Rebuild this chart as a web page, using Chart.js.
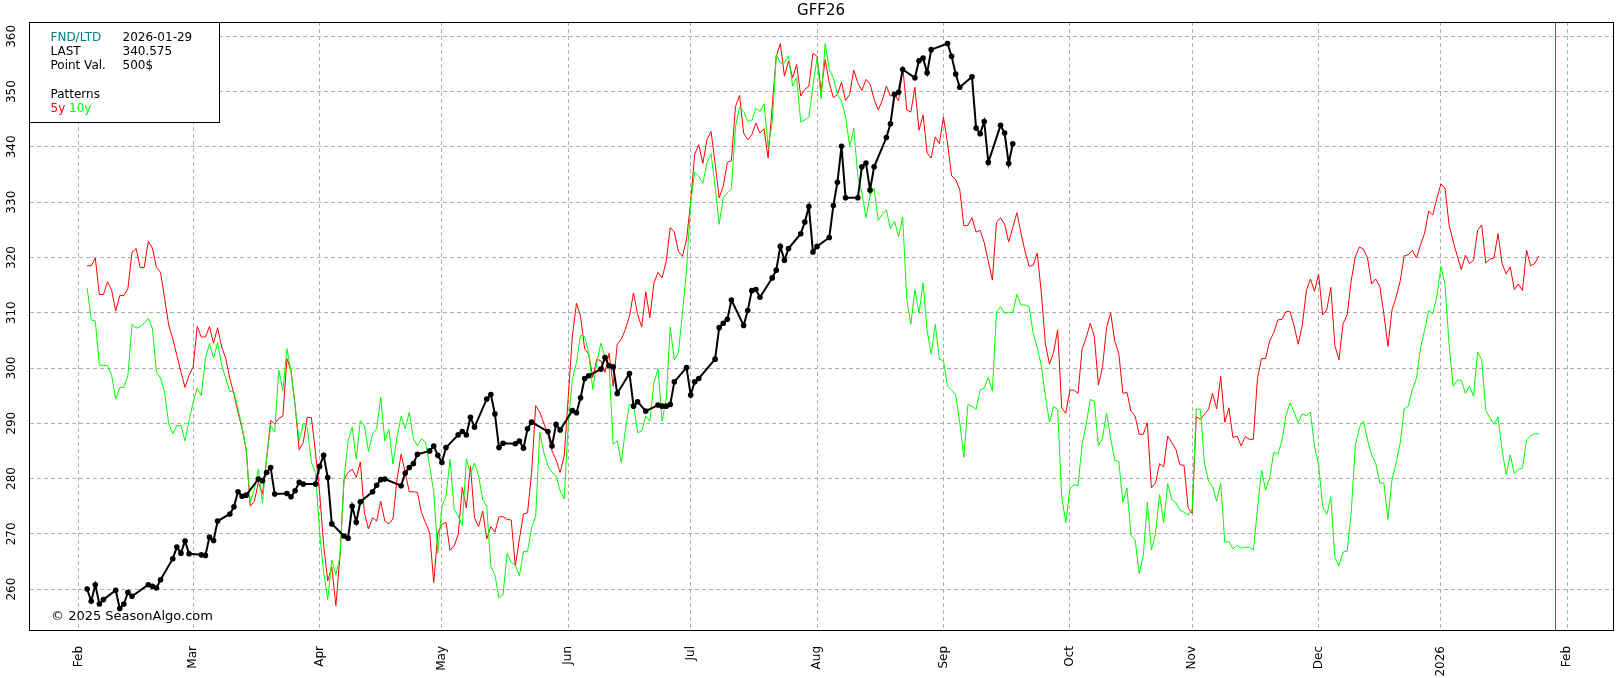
<!DOCTYPE html>
<html>
<head>
<meta charset="utf-8">
<title>GFF26</title>
<script src="https://cdn.jsdelivr.net/npm/chart.js@4/dist/chart.umd.min.js"></script>
<style>
  html, body { margin: 0; padding: 0; background: #fff; overflow: hidden; }
  #wrap { width: 1621px; height: 678px; position: relative; }
</style>
</head>
<body>
<div id="wrap"><canvas id="chart"></canvas></div>
<script>
// seasonal chart GFF26 (feeder cattle) — x values are days since 2025-02-01

const TITLE = 'GFF26';
const FND_DATE = '2026-01-29';
const LAST = '340.575';
const POINT_VAL = '500$';

const monthStartDays = [0, 28, 59, 89, 120, 150, 181, 212, 243, 273, 304, 334, 365];
const monthLabels = ['Feb', 'Mar', 'Apr', 'May', 'Jun', 'Jul', 'Aug', 'Sep', 'Oct', 'Nov', 'Dec', '2026', 'Feb'];
const yTicks = [260, 270, 280, 290, 300, 310, 320, 330, 340, 350, 360];

// patterns: one value per calendar day, starting at day 2 (Feb 3)
const patternStart = 2;
const fiveYear = [
  318.5, 318.5, 319.9, 313.3, 313.3, 315.6, 314.1, 310.3, 313.1, 313.1,
  314.4, 320.9, 321.6, 318.2, 318.2, 322.9, 321.7, 318.2, 317.3, 312.6,
  307.8, 305.3, 302.3, 299.3, 296.5, 298.7, 300.2, 307.5, 305.6, 305.6,
  307.5, 304.5, 307.3, 303.8, 301.7, 298.1, 295.3, 292.0, 289.0, 285.3,
  275.0, 275.9, 279.3, 277.2, 283.5, 290.5, 289.9, 290.9, 291.3, 301.7,
  299.6, 293.2, 285.2, 286.5, 291.1, 291.0, 284.7, 277.5, 268.0, 261.5,
  264.0, 257.0, 265.9, 279.9, 281.1, 281.7, 280.2, 283.0, 273.8, 270.9,
  272.9, 272.3, 275.9, 272.3, 271.8, 272.7, 279.9, 284.4, 281.1, 277.6,
  277.6, 277.5, 273.8, 272.0, 270.2, 261.2, 270.2, 271.7, 272.1, 267.0,
  267.8, 269.9, 278.4, 274.7, 282.3, 272.9, 271.3, 274.1, 269.1, 271.3,
  270.3, 273.1, 273.1, 272.6, 272.5, 264.2, 269.0, 273.6, 273.8, 281.1,
  293.2, 292.0, 290.0, 288.0, 285.0, 283.4, 281.1, 284.1, 294.9, 305.8,
  311.7, 309.4, 303.5, 302.5, 298.3, 301.6, 301.3, 299.2, 302.7, 296.7,
  304.3, 305.2, 307.0, 309.4, 313.6, 309.7, 307.4, 313.8, 309.1, 315.4,
  317.3, 316.3, 319.3, 325.4, 324.6, 321.1, 320.2, 323.3, 329.9, 338.7,
  340.4, 337.0, 341.3, 342.8, 337.1, 330.8, 332.9, 337.2, 337.5, 347.3,
  349.3, 342.5, 341.3, 342.2, 344.3, 342.5, 343.3, 338.0, 347.3, 356.4,
  358.7, 352.8, 355.5, 352.5, 354.9, 349.2, 350.4, 351.0, 356.9, 356.4,
  350.1, 355.8, 351.6, 348.9, 349.5, 351.7, 348.4, 349.5, 353.9, 351.6,
  350.2, 352.2, 351.4, 348.6, 346.7, 348.4, 351.0, 349.2, 349.5, 348.3,
  354.6, 346.7, 346.3, 350.8, 343.0, 345.8, 338.9, 338.0, 341.8, 340.6,
  345.4, 340.7, 334.8, 334.1, 332.3, 325.7, 325.8, 327.2, 324.6, 324.9,
  322.7, 319.3, 315.9, 326.3, 327.2, 326.0, 322.8, 325.4, 328.1, 324.5,
  321.1, 318.4, 318.6, 320.8, 313.6, 304.4, 300.7, 302.8, 306.9, 292.8,
  291.8, 296.0, 296.0, 295.4, 303.4, 305.5, 308.1, 305.7, 296.9, 300.1,
  307.3, 310.0, 304.9, 302.7, 295.4, 295.6, 292.2, 291.3, 288.0, 288.0,
  290.1, 278.3, 279.2, 282.7, 282.1, 287.7, 286.5, 285.3, 282.5, 282.4,
  274.7, 273.7, 291.2, 290.7, 291.6, 292.5, 295.4, 292.6, 298.5, 290.2,
  292.8, 287.4, 287.7, 285.9, 287.6, 287.1, 287.1, 298.1, 301.7, 301.7,
  304.9, 306.4, 308.7, 308.8, 310.2, 310.2, 307.6, 304.3, 307.8, 314.0,
  316.1, 313.9, 317.0, 309.6, 310.5, 314.6, 304.0, 301.5, 308.0, 309.6,
  315.8, 320.1, 321.9, 321.5, 319.9, 315.2, 316.1, 314.8, 309.8, 303.9,
  310.5, 312.8, 315.7, 320.3, 320.5, 321.3, 319.9, 322.3, 324.4, 328.4,
  327.7, 330.7, 333.3, 332.5, 325.9, 322.9, 320.3, 317.8, 320.4, 318.9,
  319.5, 324.9, 325.9, 319.0, 319.7, 319.9, 324.3, 318.9, 317.0, 318.3,
  314.2, 315.2, 314.0, 321.3, 318.5, 318.9, 320.3
];
const tenYear = [
  314.5, 308.7, 308.5, 300.5, 300.5, 300.4, 298.7, 294.4, 296.5, 296.5,
  298.7, 307.9, 307.2, 307.5, 308.1, 309.0, 307.2, 299.3, 298.2, 295.6,
  289.9, 288.1, 289.6, 289.6, 286.8, 290.5, 293.8, 296.4, 295.0, 301.7,
  304.4, 301.8, 304.6, 300.5, 298.1, 295.8, 295.6, 292.6, 289.3, 285.3,
  275.6, 278.1, 281.7, 275.6, 283.5, 289.6, 288.4, 299.6, 295.9, 303.5,
  299.3, 293.2, 286.8, 290.0, 289.1, 282.9, 281.1, 270.2, 263.0, 258.1,
  265.3, 262.6, 265.9, 279.9, 286.8, 289.3, 283.5, 290.5, 289.6, 284.9,
  288.1, 289.0, 294.7, 286.8, 289.0, 282.6, 287.5, 291.3, 289.0, 292.0,
  287.2, 285.9, 287.2, 286.5, 282.3, 277.5, 266.5, 275.0, 276.8, 283.5,
  274.4, 273.2, 271.5, 283.6, 280.8, 282.8, 280.5, 276.2, 275.0, 264.1,
  262.6, 258.4, 259.0, 266.5, 264.8, 264.4, 262.4, 266.8, 266.8, 271.1,
  273.2, 288.4, 284.7, 282.3, 281.1, 280.5, 277.8, 276.3, 290.1, 298.0,
  301.0, 305.9, 305.7, 302.8, 296.1, 301.0, 304.5, 301.9, 300.4, 286.2,
  286.8, 282.9, 288.9, 293.4, 293.4, 288.3, 288.6, 291.3, 290.4, 297.3,
  299.9, 290.4, 294.3, 307.4, 301.4, 302.8, 310.0, 317.8, 329.9, 335.4,
  334.7, 333.4, 337.1, 338.8, 332.9, 326.0, 330.8, 331.7, 332.4, 343.7,
  347.2, 346.4, 344.6, 344.8, 347.0, 346.4, 347.8, 340.1, 344.3, 356.7,
  355.2, 355.2, 356.5, 351.0, 352.5, 344.5, 344.9, 345.4, 351.0, 356.1,
  348.7, 358.7, 354.0, 352.5, 349.5, 348.3, 345.5, 340.0, 343.4, 334.7,
  331.7, 327.2, 331.1, 332.5, 326.7, 327.8, 328.6, 325.2, 326.6, 323.7,
  327.3, 312.4, 307.9, 314.2, 309.9, 315.4, 306.7, 302.5, 307.9, 301.6,
  301.3, 296.7, 296.0, 295.2, 290.1, 283.8, 293.4, 293.1, 292.5, 296.0,
  296.4, 298.3, 295.8, 310.1, 311.1, 309.9, 310.1, 310.0, 313.3, 311.4,
  311.4, 311.1, 306.3, 303.7, 300.4, 294.9, 290.2, 293.0, 292.5, 276.8,
  272.0, 278.1, 278.9, 278.7, 286.2, 289.8, 294.3, 294.0, 285.9, 287.2,
  291.9, 287.4, 283.3, 283.1, 275.7, 278.3, 269.7, 268.9, 262.8, 266.0,
  275.7, 267.1, 270.0, 277.1, 272.0, 279.1, 276.2, 275.6, 274.3, 273.9,
  273.4, 274.4, 292.6, 292.5, 282.8, 279.5, 278.6, 275.9, 279.1, 268.5,
  268.6, 267.3, 267.9, 267.4, 267.6, 267.6, 267.1, 274.4, 281.5, 277.9,
  280.1, 284.7, 284.4, 286.8, 291.4, 293.7, 292.0, 290.1, 291.7, 291.4,
  292.0, 285.8, 282.5, 275.0, 273.5, 276.7, 265.7, 264.2, 266.7, 266.9,
  273.8, 286.0, 289.2, 290.4, 287.0, 284.3, 282.8, 279.2, 279.2, 272.6,
  279.8, 282.8, 286.4, 292.6, 293.1, 296.1, 298.2, 303.6, 306.9, 310.4,
  309.8, 313.0, 318.4, 315.1, 304.2, 296.7, 297.8, 297.8, 295.4, 296.7,
  294.9, 302.9, 301.5, 292.3, 291.0, 289.8, 291.1, 285.2, 280.7, 284.3,
  280.9, 281.7, 281.9, 287.0, 287.7, 288.1, 288.1
];

// current contract, trading days only
const currentDays = [
  2, 3, 4, 5, 6, 9, 10, 11, 12, 13, 17, 18, 19, 20, 23, 24, 25, 26, 27,
  30, 31, 32, 33, 34, 37, 38, 39, 40, 41, 44, 45, 46, 47, 48, 51, 52, 53, 54, 55,
  58, 59, 60, 61, 62, 65, 66, 67, 68, 69, 72, 73, 74, 75, 79, 80, 81, 82, 83,
  86, 87, 88, 89, 90, 93, 94, 95, 96, 97, 100, 101, 102, 103, 104,
  107, 108, 109, 110, 111, 115, 116, 117, 118, 121, 122, 123, 124, 125,
  128, 129, 130, 131, 132, 135, 136, 137, 139, 142, 143, 144, 145, 146,
  149, 150, 151, 152, 156, 157, 158, 159, 160, 163, 164, 165, 166, 167,
  170, 171, 172, 173, 174, 177, 178, 179, 180, 181, 184, 185, 186, 187, 188,
  191, 192, 193, 194, 195, 198, 199, 200, 201, 202, 205, 206, 207, 208, 209,
  213, 214, 215, 216, 219, 220, 221, 222, 223, 226, 227, 228, 229
];
const currentValues = [
  260.0, 257.8, 260.8, 257.3, 258.1, 259.8, 256.5, 257.3, 259.4, 258.7, 260.8, 260.5, 260.2, 261.7, 265.5, 267.6, 266.5, 268.7, 266.4,
  266.2, 266.1, 269.4, 268.8, 272.3, 273.6, 274.9, 277.6, 276.8, 277.0, 279.9, 279.6, 281.1, 282.0, 277.2, 277.3, 276.7, 277.8, 279.3, 279.0,
  279.0, 282.2, 284.2, 280.2, 271.8, 269.6, 269.2, 275.0, 272.1, 275.8, 277.6, 278.8, 279.8, 279.9, 278.7, 281.0, 282.0, 282.7, 284.4,
  285.0, 285.9, 284.2, 282.9, 285.6, 287.9, 288.5, 287.9, 291.1, 289.3, 294.4, 295.2, 291.7, 285.6, 286.4,
  286.3, 286.8, 285.5, 289.0, 290.2, 288.5, 285.9, 289.8, 288.8, 292.3, 291.9, 294.6, 298.1, 298.6,
  299.8, 301.9, 300.4, 300.2, 295.4, 299.0, 293.1, 293.9, 292.2, 293.3, 293.1, 293.1, 293.4, 297.5,
  300.1, 295.1, 297.5, 298.1, 301.6, 307.3, 308.1, 308.8, 312.3, 307.7, 310.4, 314.0, 314.2, 312.8,
  316.3, 317.7, 322.0, 319.5, 321.6, 324.3, 326.4, 329.2, 321.0, 322.0, 323.6, 329.4, 333.6, 340.1, 330.8,
  330.8, 336.4, 337.1, 332.2, 336.4, 341.7, 344.2, 349.5, 349.9, 354.0, 352.5, 355.6, 356.1, 353.4, 357.6,
  358.7, 356.4, 353.2, 350.8, 352.7, 343.4, 342.4, 344.6, 337.2, 343.9, 342.5, 337.0, 340.575
];

const DAY0 = Date.UTC(2025, 1, 1);
const fndDay = (Date.parse(FND_DATE) - DAY0) / 864e5;

Chart.defaults.font.family = "'DejaVu Sans', sans-serif";
Chart.defaults.color = '#000';

const GRID = '#b0b0b0';

// title, FND line, frame, info box, copyright
const decorations = {
  id: 'decorations',
  afterDraw(chart) {
    const { ctx, chartArea: a, scales } = chart;
    const L = Math.round(a.left) + 0.5, R = Math.round(a.right) + 0.5;
    const T = Math.round(a.top) + 0.5, B = Math.round(a.bottom) + 0.5;
    ctx.save();

    const fx = Math.round(scales.x.getPixelForValue(fndDay)) + 0.5;
    ctx.strokeStyle = '#008080';
    ctx.lineWidth = 1;
    ctx.beginPath();
    ctx.moveTo(fx, T);
    ctx.lineTo(fx, B);
    ctx.stroke();

    ctx.strokeStyle = '#000';
    ctx.strokeRect(L, T, R - L, B - T);

    ctx.fillStyle = '#000';
    ctx.font = "15px 'DejaVu Sans'";
    ctx.textAlign = 'center';
    ctx.textBaseline = 'middle';
    ctx.fillText(TITLE, (a.left + a.right) / 2, 11);

    // info box top-left
    ctx.fillStyle = '#fff';
    ctx.fillRect(L, T, 190, 100);
    ctx.strokeRect(L, T, 190, 100);
    ctx.font = "12px 'DejaVu Sans'";
    ctx.textAlign = 'left';
    const c1 = L + 21, c2 = L + 93;
    ctx.fillStyle = '#008080';
    ctx.fillText('FND/LTD', c1, T + 15);
    ctx.fillStyle = '#000';
    ctx.fillText(FND_DATE, c2, T + 15);
    ctx.fillText('LAST', c1, T + 29);
    ctx.fillText(LAST, c2, T + 29);
    ctx.fillText('Point Val.', c1, T + 43);
    ctx.fillText(POINT_VAL, c2, T + 43);
    ctx.fillText('Patterns', c1, T + 72);
    ctx.fillStyle = '#ff0000';
    ctx.fillText('5y', c1, T + 86);
    const w5 = ctx.measureText('5y ').width;
    ctx.fillStyle = '#00ff00';
    ctx.fillText('10y', c1 + w5, T + 86);

    ctx.fillStyle = '#000';
    ctx.font = "13px 'DejaVu Sans'";
    ctx.fillText('\u00a9 2025 SeasonAlgo.com', a.left + 22, a.bottom - 13);
    ctx.restore();
  }
};

const ctx = document.getElementById('chart');
new Chart(ctx, {
  type: 'line',
  data: {
    datasets: [
      {
        label: 'current',
        data: currentDays.map((d, i) => ({ x: d, y: currentValues[i] })),
        borderColor: '#000',
        backgroundColor: '#000',
        borderWidth: 2,
        pointRadius: 2.8,
        pointBorderWidth: 0,
        tension: 0
      },
      {
        label: '10y',
        data: tenYear.map((v, i) => ({ x: patternStart + i, y: v })),
        borderColor: '#00ff00',
        borderWidth: 1,
        pointRadius: 0,
        tension: 0
      },
      {
        label: '5y',
        data: fiveYear.map((v, i) => ({ x: patternStart + i, y: v })),
        borderColor: '#ff0000',
        borderWidth: 1,
        pointRadius: 0,
        tension: 0
      }
    ]
  },
  options: {
    responsive: true,
    maintainAspectRatio: false,
    animation: false,
    layout: { autoPadding: false, padding: { top: 22, right: 8, left: 0, bottom: 0 } },
    plugins: {
      legend: { display: false },
      tooltip: { enabled: false },
      title: { display: false }
    },
    scales: {
      x: {
        type: 'linear',
        min: -12.26,
        max: 376.2,
        afterBuildTicks: s => { s.ticks = monthStartDays.map(v => ({ value: v })); },
        afterFit: s => { s.height = 48; },
        ticks: {
          autoSkip: false,
          minRotation: 90,
          maxRotation: 90,
          padding: 16,
          font: { size: 12 },
          callback: v => monthLabels[monthStartDays.indexOf(v)]
        },
        grid: { color: GRID, drawTicks: false },
        border: { display: true, color: '#000', width: 1, dash: [4, 3] }
      },
      y: {
        min: 252.6,
        max: 362.6,
        afterBuildTicks: s => { s.ticks = yTicks.map(v => ({ value: v })); },
        afterFit: s => { s.width = 29; },
        ticks: {
          minRotation: 90,
          maxRotation: 90,
          crossAlign: 'center',
          padding: 6,
          font: { size: 12 }
        },
        grid: { color: GRID, drawTicks: false },
        border: { display: true, color: '#000', width: 1, dash: [4, 3] }
      }
    }
  },
  plugins: [decorations]
});
</script>
</body>
</html>
